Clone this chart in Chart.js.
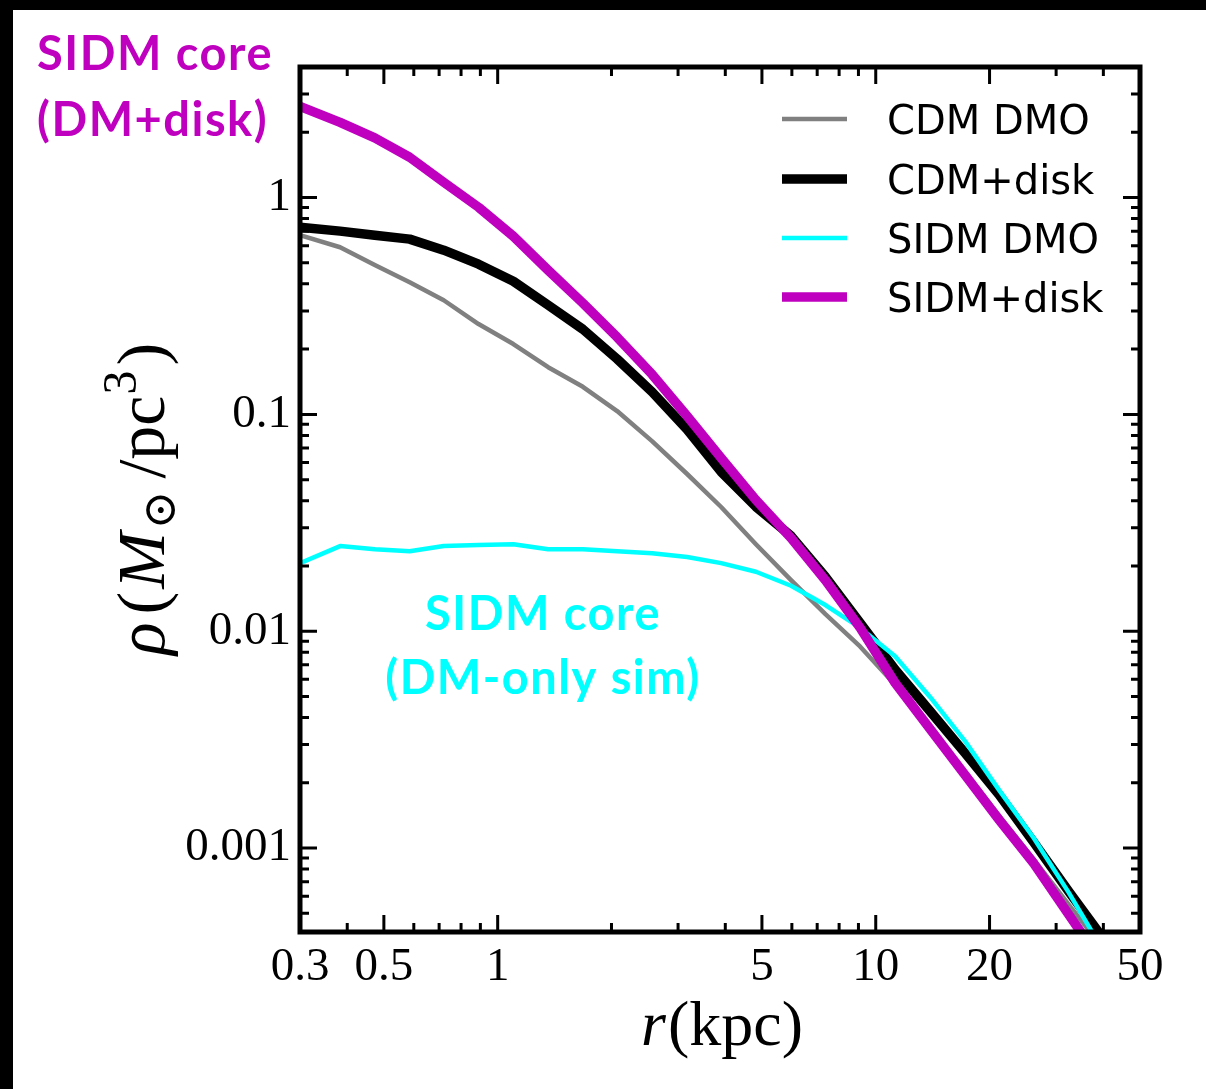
<!DOCTYPE html>
<html>
<head>
<meta charset="utf-8">
<script src="https://cdn.jsdelivr.net/npm/chart.js@4.4.1/dist/chart.umd.min.js"></script>
<style>
  html, body { margin: 0; padding: 0; background: #fff; overflow: hidden; }
  canvas { display: block; }
</style>
</head>
<body>
<canvas id="myChart" width="1206" height="1089"></canvas>
<script>
// Density profiles, r in kpc, rho in Msun/pc^3
const radius = [0.3, 0.383, 0.473, 0.585, 0.72, 0.89, 1.1, 1.36, 1.68, 2.07, 2.56, 3.17,
  3.9, 4.82, 5.97, 7.36, 9.1, 11.25, 13.9, 17.2, 21.2, 26.2, 32.4, 40.1];

const cdmDmo = [0.67, 0.59, 0.488, 0.407, 0.336, 0.261, 0.211, 0.165, 0.134, 0.1036, 0.0753, 0.0531,
  0.0374, 0.0252, 0.0172, 0.012, 0.00848, 0.00566, 0.00359, 0.00225, 0.00141, 0.000885, 0.000549, 0.00034];

const cdmDisk = [0.73, 0.7, 0.67, 0.643, 0.572, 0.493, 0.411, 0.319, 0.247, 0.18, 0.127, 0.0851,
  0.0543, 0.0375, 0.0275, 0.0178, 0.0109, 0.00665, 0.00429, 0.00275, 0.00176, 0.00106, 0.00063, 0.00038];

const sidmDmo = [0.0206, 0.0247, 0.0239, 0.0234, 0.0247, 0.025, 0.0252, 0.0239, 0.0239, 0.0234, 0.0229, 0.022,
  0.0206, 0.0188, 0.0162, 0.0132, 0.01035, 0.00767, 0.00499, 0.00312, 0.00185, 0.00111, 0.000623, 0.000333];

const sidmDisk = [2.634, 2.223, 1.884, 1.534, 1.176, 0.902, 0.663, 0.462, 0.326, 0.227, 0.153, 0.0982,
  0.0629, 0.0403, 0.0269, 0.0172, 0.01035, 0.00578, 0.00355, 0.00218, 0.00135, 0.000848, 0.000493, 0.000288];

const seriesNames = ["CDM DMO", "CDM+disk", "SIDM DMO", "SIDM+disk"];

// tick labels
const xTickValues = [0.3, 0.5, 1, 5, 10, 20, 50];
const xMinorValues = [0.4, 0.6, 0.7, 0.8, 0.9, 2, 3, 4, 6, 7, 8, 9, 30, 40];
const yTickValues = [0.001, 0.01, 0.1, 1];

const serif = "'Liberation Serif', 'DejaVu Serif', serif";

function points(values) {
  return radius.map((r, i) => ({ x: r, y: values[i] }));
}

function yMinorValues() {
  const out = [];
  for (let e = -4; e <= 0; e++) {
    for (let m = 2; m <= 9; m++) out.push(m * Math.pow(10, e));
  }
  return out;
}

const decor = {
  id: "decor",
  beforeDraw(chart) {
    const c = chart.ctx;
    c.save();
    c.fillStyle = "#fff";
    c.fillRect(0, 0, chart.width, chart.height);
    c.fillStyle = "#000";
    c.fillRect(0, 0, chart.width, 10);
    c.fillRect(0, 0, 13, chart.height);
    c.restore();
  },
  afterDraw(chart) {
    const c = chart.ctx;
    const a = chart.chartArea;
    const xs = chart.scales.x;
    const ys = chart.scales.y;
    c.save();

    // inward ticks on all four sides
    c.strokeStyle = "#000";
    c.lineWidth = 3;
    const xTick = (v, len) => {
      const px = xs.getPixelForValue(v);
      if (px < a.left - 1 || px > a.right + 1) return;
      c.beginPath();
      c.moveTo(px, a.bottom); c.lineTo(px, a.bottom - len);
      c.moveTo(px, a.top); c.lineTo(px, a.top + len);
      c.stroke();
    };
    const yTick = (v, len) => {
      const py = ys.getPixelForValue(v);
      if (py < a.top - 1 || py > a.bottom + 1) return;
      c.beginPath();
      c.moveTo(a.left, py); c.lineTo(a.left + len, py);
      c.moveTo(a.right, py); c.lineTo(a.right - len, py);
      c.stroke();
    };
    xTickValues.forEach(v => xTick(v, 17));
    xMinorValues.forEach(v => xTick(v, 9));
    yTickValues.forEach(v => yTick(v, 17));
    yMinorValues().forEach(v => yTick(v, 9));

    // frame
    c.lineWidth = 5;
    c.strokeRect(a.left, a.top, a.right - a.left, a.bottom - a.top);

    // legend
    const rows = [119, 179, 238, 297];
    chart.data.datasets.forEach((ds, i) => {
      c.strokeStyle = ds.borderColor;
      c.lineWidth = ds.borderWidth;
      c.lineCap = "butt";
      c.beginPath();
      c.moveTo(782, rows[i]);
      c.lineTo(847, rows[i]);
      c.stroke();
      c.fillStyle = "#000";
      c.font = "40px 'DejaVu Sans'";
      c.textAlign = "left";
      c.textBaseline = "alphabetic";
      c.fillText(ds.label, 887, rows[i] + 15);
    });

    // axis titles
    c.fillStyle = "#000";
    c.textBaseline = "alphabetic";
    c.textAlign = "left";
    const parts = (list, x0, y0) => {
      let x = x0;
      list.forEach(p => {
        c.font = p.font;
        c.fillText(p.t, x, y0 + (p.dy || 0));
        x += c.measureText(p.t).width + (p.gap || 0);
      });
    };
    const widthOf = list => list.reduce((w, p) => {
      c.font = p.font;
      return w + c.measureText(p.t).width + (p.gap || 0);
    }, 0);

    const xTitle = [
      { t: "r", font: "italic 64px " + serif, gap: 2 },
      { t: "(kpc)", font: "64px " + serif }
    ];
    parts(xTitle, 722 - widthOf(xTitle) / 2, 1045);

    const yTitle = [
      { t: "ρ", font: "italic 68px " + serif, gap: 8 },
      { t: "(", font: "68px " + serif, gap: 3 },
      { t: "M", font: "italic 68px " + serif, gap: 3 },
      { t: "⊙", font: "46px 'DejaVu Serif'", dy: 11, gap: 12 },
      { t: "/pc", font: "68px " + serif, gap: 1 },
      { t: "3", font: "48px " + serif, dy: -28, gap: 5 },
      { t: ")", font: "68px " + serif }
    ];
    c.save();
    c.translate(164, 499);
    c.rotate(-Math.PI / 2);
    parts(yTitle, -widthOf(yTitle) / 2, 0);
    c.restore();

    // annotations
    c.font = "bold 47px Lato";
    c.letterSpacing = "1.5px";
    c.fillStyle = "#bf00bf";
    c.textAlign = "left";
    c.fillText("SIDM core", 37, 70);
    c.fillText("(DM+disk)", 37, 136);
    c.fillStyle = "#00ffff";
    c.textAlign = "center";
    c.fillText("SIDM core", 543, 630);
    c.fillText("(DM-only sim)", 543, 694);
    c.letterSpacing = "0px";

    c.restore();
  }
};

const ctx = document.getElementById("myChart");

new Chart(ctx, {
  type: "line",
  data: {
    datasets: [
      { label: seriesNames[0], data: points(cdmDmo), borderColor: "#808080", borderWidth: 4.5, order: 4 },
      { label: seriesNames[1], data: points(cdmDisk), borderColor: "#000000", borderWidth: 9.5, order: 3 },
      { label: seriesNames[2], data: points(sidmDmo), borderColor: "#00ffff", borderWidth: 4.5, order: 2 },
      { label: seriesNames[3], data: points(sidmDisk), borderColor: "#bf00bf", borderWidth: 9.5, order: 1 },
    ],
  },
  options: {
    responsive: false,
    animation: false,
    layout: { padding: { top: 67, right: 66, left: 0, bottom: 0 } },
    datasets: { line: { clip: 0, pointRadius: 0, tension: 0, fill: false, borderJoinStyle: "round" } },
    plugins: {
      legend: { display: false },
      tooltip: { enabled: false },
    },
    scales: {
      x: {
        type: "logarithmic",
        min: 0.3,
        max: 50,
        grid: { display: false, drawTicks: false },
        border: { display: false },
        afterBuildTicks: s => { s.ticks = xTickValues.map(v => ({ value: v })); },
        afterFit: s => { s.height = 157; },
        ticks: {
          autoSkip: false,
          maxRotation: 0,
          padding: 7,
          color: "#000",
          font: { family: serif, size: 47 },
          callback: v => String(v),
        },
      },
      y: {
        type: "logarithmic",
        min: 4.1e-4,
        max: 4,
        grid: { display: false, drawTicks: false },
        border: { display: false },
        afterBuildTicks: s => { s.ticks = yTickValues.map(v => ({ value: v })); },
        afterFit: s => { s.width = 300; },
        ticks: {
          autoSkip: false,
          padding: 9,
          color: "#000",
          font: { family: serif, size: 47 },
          callback: v => String(v),
        },
      },
    },
  },
  plugins: [decor],
});
</script>
</body>
</html>
